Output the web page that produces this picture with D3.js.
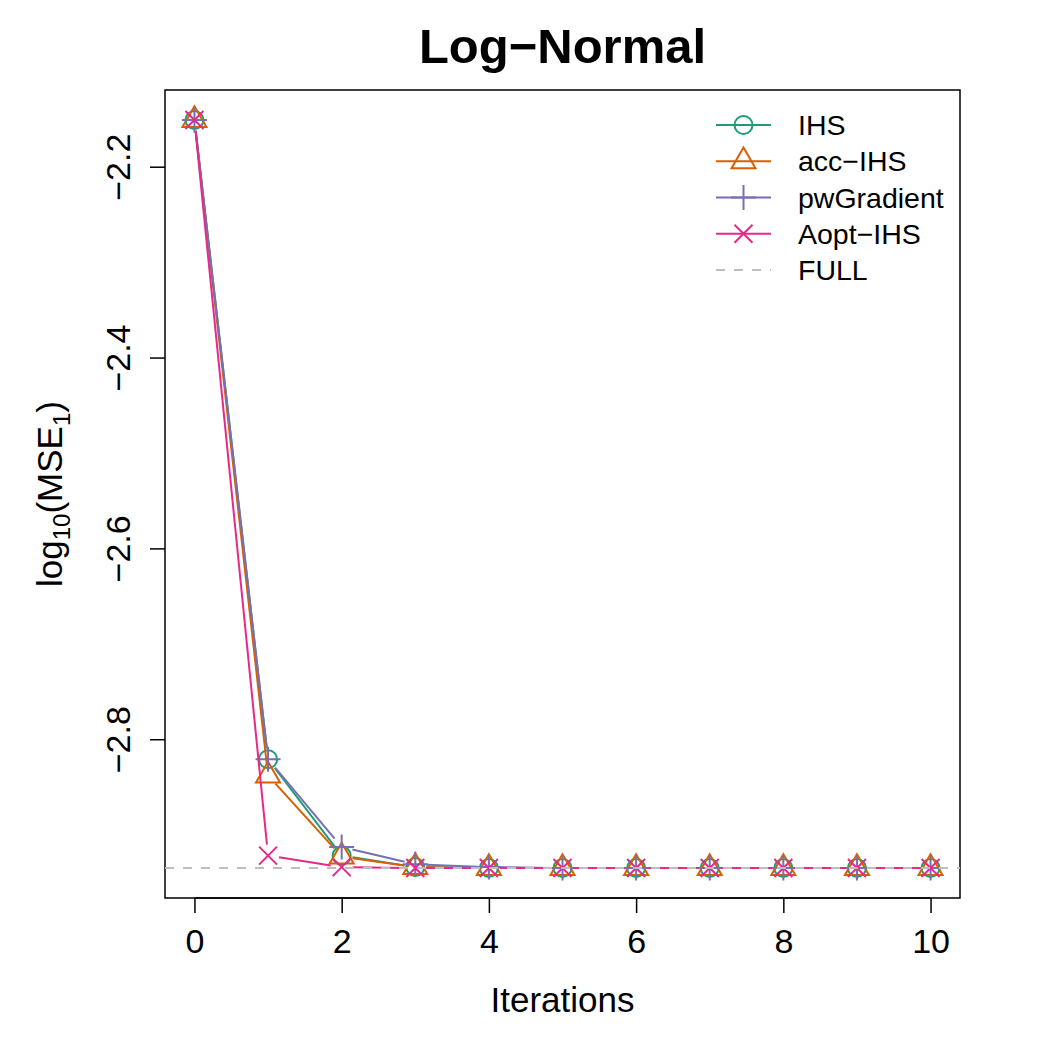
<!DOCTYPE html>
<html>
<head>
<meta charset="utf-8">
<script src="https://cdn.jsdelivr.net/npm/d3@7"></script>
<style>
  body { margin: 0; background: #fff; }
  svg text { font-family: "Liberation Sans", Arial, sans-serif; }
</style>
</head>
<body>
<div id="chart"></div>
<script>
// data
var iterations = [0, 1, 2, 3, 4, 5, 6, 7, 8, 9, 10];
var ihs = [-2.151, -2.821, -2.922, -2.934, -2.935, -2.935, -2.935, -2.935, -2.935, -2.935, -2.935];
var accIhs = [-2.151, -2.838, -2.923, -2.934, -2.935, -2.935, -2.935, -2.935, -2.935, -2.935, -2.935];
var pwGradient = [-2.151, -2.821, -2.913, -2.931, -2.934, -2.935, -2.935, -2.935, -2.935, -2.935, -2.935];
var aoptIhs = [-2.151, -2.922, -2.934, -2.935, -2.935, -2.935, -2.935, -2.935, -2.935, -2.935, -2.935];
var fullValue = -2.935;
var seriesNames = ["IHS", "acc\u2212IHS", "pwGradient", "Aopt\u2212IHS"];
var seriesColors = ["#1B9E77", "#D95F02", "#7570B3", "#E7298A"];
var seriesShapes = ["circle", "triangle", "plus", "cross"];
var xTicks = [0, 2, 4, 6, 8, 10];
var yTicks = [-2.2, -2.4, -2.6, -2.8];

function init() {
    var w = 1050, h = 1050;
    var left = 165, right = 960, top = 90, bottom = 898;

    var svg = d3.select("#chart").append("svg")
        .attr("width", w).attr("height", h);

    var allSeries = [ihs, accIhs, pwGradient, aoptIhs];

    var xScale = d3.scaleLinear().domain([-0.4, 10.4]).range([left, right]);
    var yScale = d3.scaleLinear().domain([-2.9664, -2.1196]).range([bottom, top]);

    var fmt = function (d) { return String(d).replace("-", "\u2212"); };

    // x axis
    var xAxis = d3.axisBottom(xScale).tickValues(xTicks).tickSize(15).tickFormat(d3.format("d"));
    var gx = svg.append("g").attr("transform", "translate(0," + bottom + ")").call(xAxis);
    gx.select(".domain").attr("d", "M" + xScale(0) + ",0H" + xScale(10)).attr("stroke", "#000").attr("stroke-width", 1.5);
    gx.selectAll(".tick line").attr("stroke", "#000").attr("stroke-width", 1.5);
    gx.selectAll("text").attr("font-size", 34).attr("fill", "#000")
        .attr("font-family", "Liberation Sans, Arial, sans-serif")
        .attr("y", 55).attr("dy", 0);

    // y axis
    var yAxis = d3.axisLeft(yScale).tickValues(yTicks).tickSize(15).tickFormat(fmt);
    var gy = svg.append("g").attr("transform", "translate(" + left + ",0)").call(yAxis);
    gy.select(".domain").remove();
    gy.selectAll(".tick line").attr("stroke", "#000").attr("stroke-width", 1.5);
    gy.selectAll("text")
        .attr("font-size", 34).attr("fill", "#000")
        .attr("font-family", "Liberation Sans, Arial, sans-serif")
        .attr("x", 0).attr("dy", 0)
        .attr("text-anchor", "middle")
        .attr("transform", "translate(-35,0) rotate(-90)");

    // box
    svg.append("rect")
        .attr("x", left).attr("y", top)
        .attr("width", right - left).attr("height", bottom - top)
        .attr("fill", "none").attr("stroke", "#000").attr("stroke-width", 1.5);

    // title and labels
    svg.append("text").attr("x", (left + right) / 2).attr("y", 63)
        .attr("text-anchor", "middle").attr("font-size", 49).attr("font-weight", "bold")
        .text("Log\u2212Normal");
    svg.append("text").attr("x", (left + right) / 2).attr("y", 1012)
        .attr("text-anchor", "middle").attr("font-size", 35).text("Iterations");
    var yl = svg.append("text")
        .attr("transform", "translate(62," + (top + bottom) / 2 + ") rotate(-90)")
        .attr("text-anchor", "middle").attr("font-size", 35);
    yl.append("tspan").text("log");
    yl.append("tspan").attr("font-size", 24).attr("dy", 8).text("10");
    yl.append("tspan").attr("dy", -8).text("(MSE");
    yl.append("tspan").attr("font-size", 24).attr("dy", 8).text("1");
    yl.append("tspan").attr("dy", -8).text(")");

    svg.append("defs").append("clipPath").attr("id", "plotclip")
        .append("rect").attr("x", left).attr("y", top)
        .attr("width", right - left).attr("height", bottom - top);

    function drawMarker(g, shape, cx, cy, color) {
        if (shape === "circle") {
            g.append("circle").attr("cx", cx).attr("cy", cy).attr("r", 9)
                .attr("fill", "none").attr("stroke", color).attr("stroke-width", 2);
        } else if (shape === "triangle") {
            var s = 12;
            g.append("path")
                .attr("d", "M" + cx + "," + (cy - s * 1.15) + "L" + (cx + s * 1.0) + "," + (cy + s * 0.58) +
                    "L" + (cx - s * 1.0) + "," + (cy + s * 0.58) + "Z")
                .attr("fill", "none").attr("stroke", color).attr("stroke-width", 2);
        } else if (shape === "plus") {
            var p = 12.5;
            g.append("path")
                .attr("d", "M" + (cx - p) + "," + cy + "H" + (cx + p) + "M" + cx + "," + (cy - p) + "V" + (cy + p))
                .attr("stroke", color).attr("stroke-width", 2);
        } else {
            var c = 9;
            g.append("path")
                .attr("d", "M" + (cx - c) + "," + (cy - c) + "L" + (cx + c) + "," + (cy + c) +
                    "M" + (cx - c) + "," + (cy + c) + "L" + (cx + c) + "," + (cy - c))
                .attr("stroke", color).attr("stroke-width", 2);
        }
    }

    // series, drawn like R type = "b" (gaps around points)
    var gap = 11;
    allSeries.forEach(function (vals, i) {
        var g = svg.append("g").attr("clip-path", "url(#plotclip)");
        var pts = iterations.map(function (it, j) { return [xScale(it), yScale(vals[j])]; });
        for (var j = 0; j < pts.length - 1; j++) {
            var a = pts[j], b = pts[j + 1];
            var dx = b[0] - a[0], dy = b[1] - a[1];
            var len = Math.sqrt(dx * dx + dy * dy);
            if (len <= 2 * gap) continue;
            var ux = dx / len, uy = dy / len;
            g.append("line")
                .attr("x1", a[0] + ux * gap).attr("y1", a[1] + uy * gap)
                .attr("x2", b[0] - ux * gap).attr("y2", b[1] - uy * gap)
                .attr("stroke", seriesColors[i]).attr("stroke-width", 2);
        }
        pts.forEach(function (p) { drawMarker(g, seriesShapes[i], p[0], p[1], seriesColors[i]); });
    });

    // FULL reference line
    svg.append("line")
        .attr("x1", left).attr("x2", right)
        .attr("y1", yScale(fullValue)).attr("y2", yScale(fullValue))
        .attr("stroke", "#BEBEBE").attr("stroke-width", 2).attr("stroke-dasharray", "9,9");

    // legend
    var legendNames = seriesNames.concat(["FULL"]);
    var lg = svg.append("g");
    legendNames.forEach(function (name, i) {
        var y = 125 + i * 36.25;
        if (i < 4) {
            lg.append("line").attr("x1", 716).attr("x2", 771).attr("y1", y).attr("y2", y)
                .attr("stroke", seriesColors[i]).attr("stroke-width", 2);
            drawMarker(lg, seriesShapes[i], 743.5, y, seriesColors[i]);
        } else {
            lg.append("line").attr("x1", 716).attr("x2", 771).attr("y1", y).attr("y2", y)
                .attr("stroke", "#BEBEBE").attr("stroke-width", 2).attr("stroke-dasharray", "9,9");
        }
        lg.append("text").attr("x", 798).attr("y", y + 10).attr("font-size", 28.5).text(name);
    });
}

window.onload = init;
</script>
</body>
</html>
